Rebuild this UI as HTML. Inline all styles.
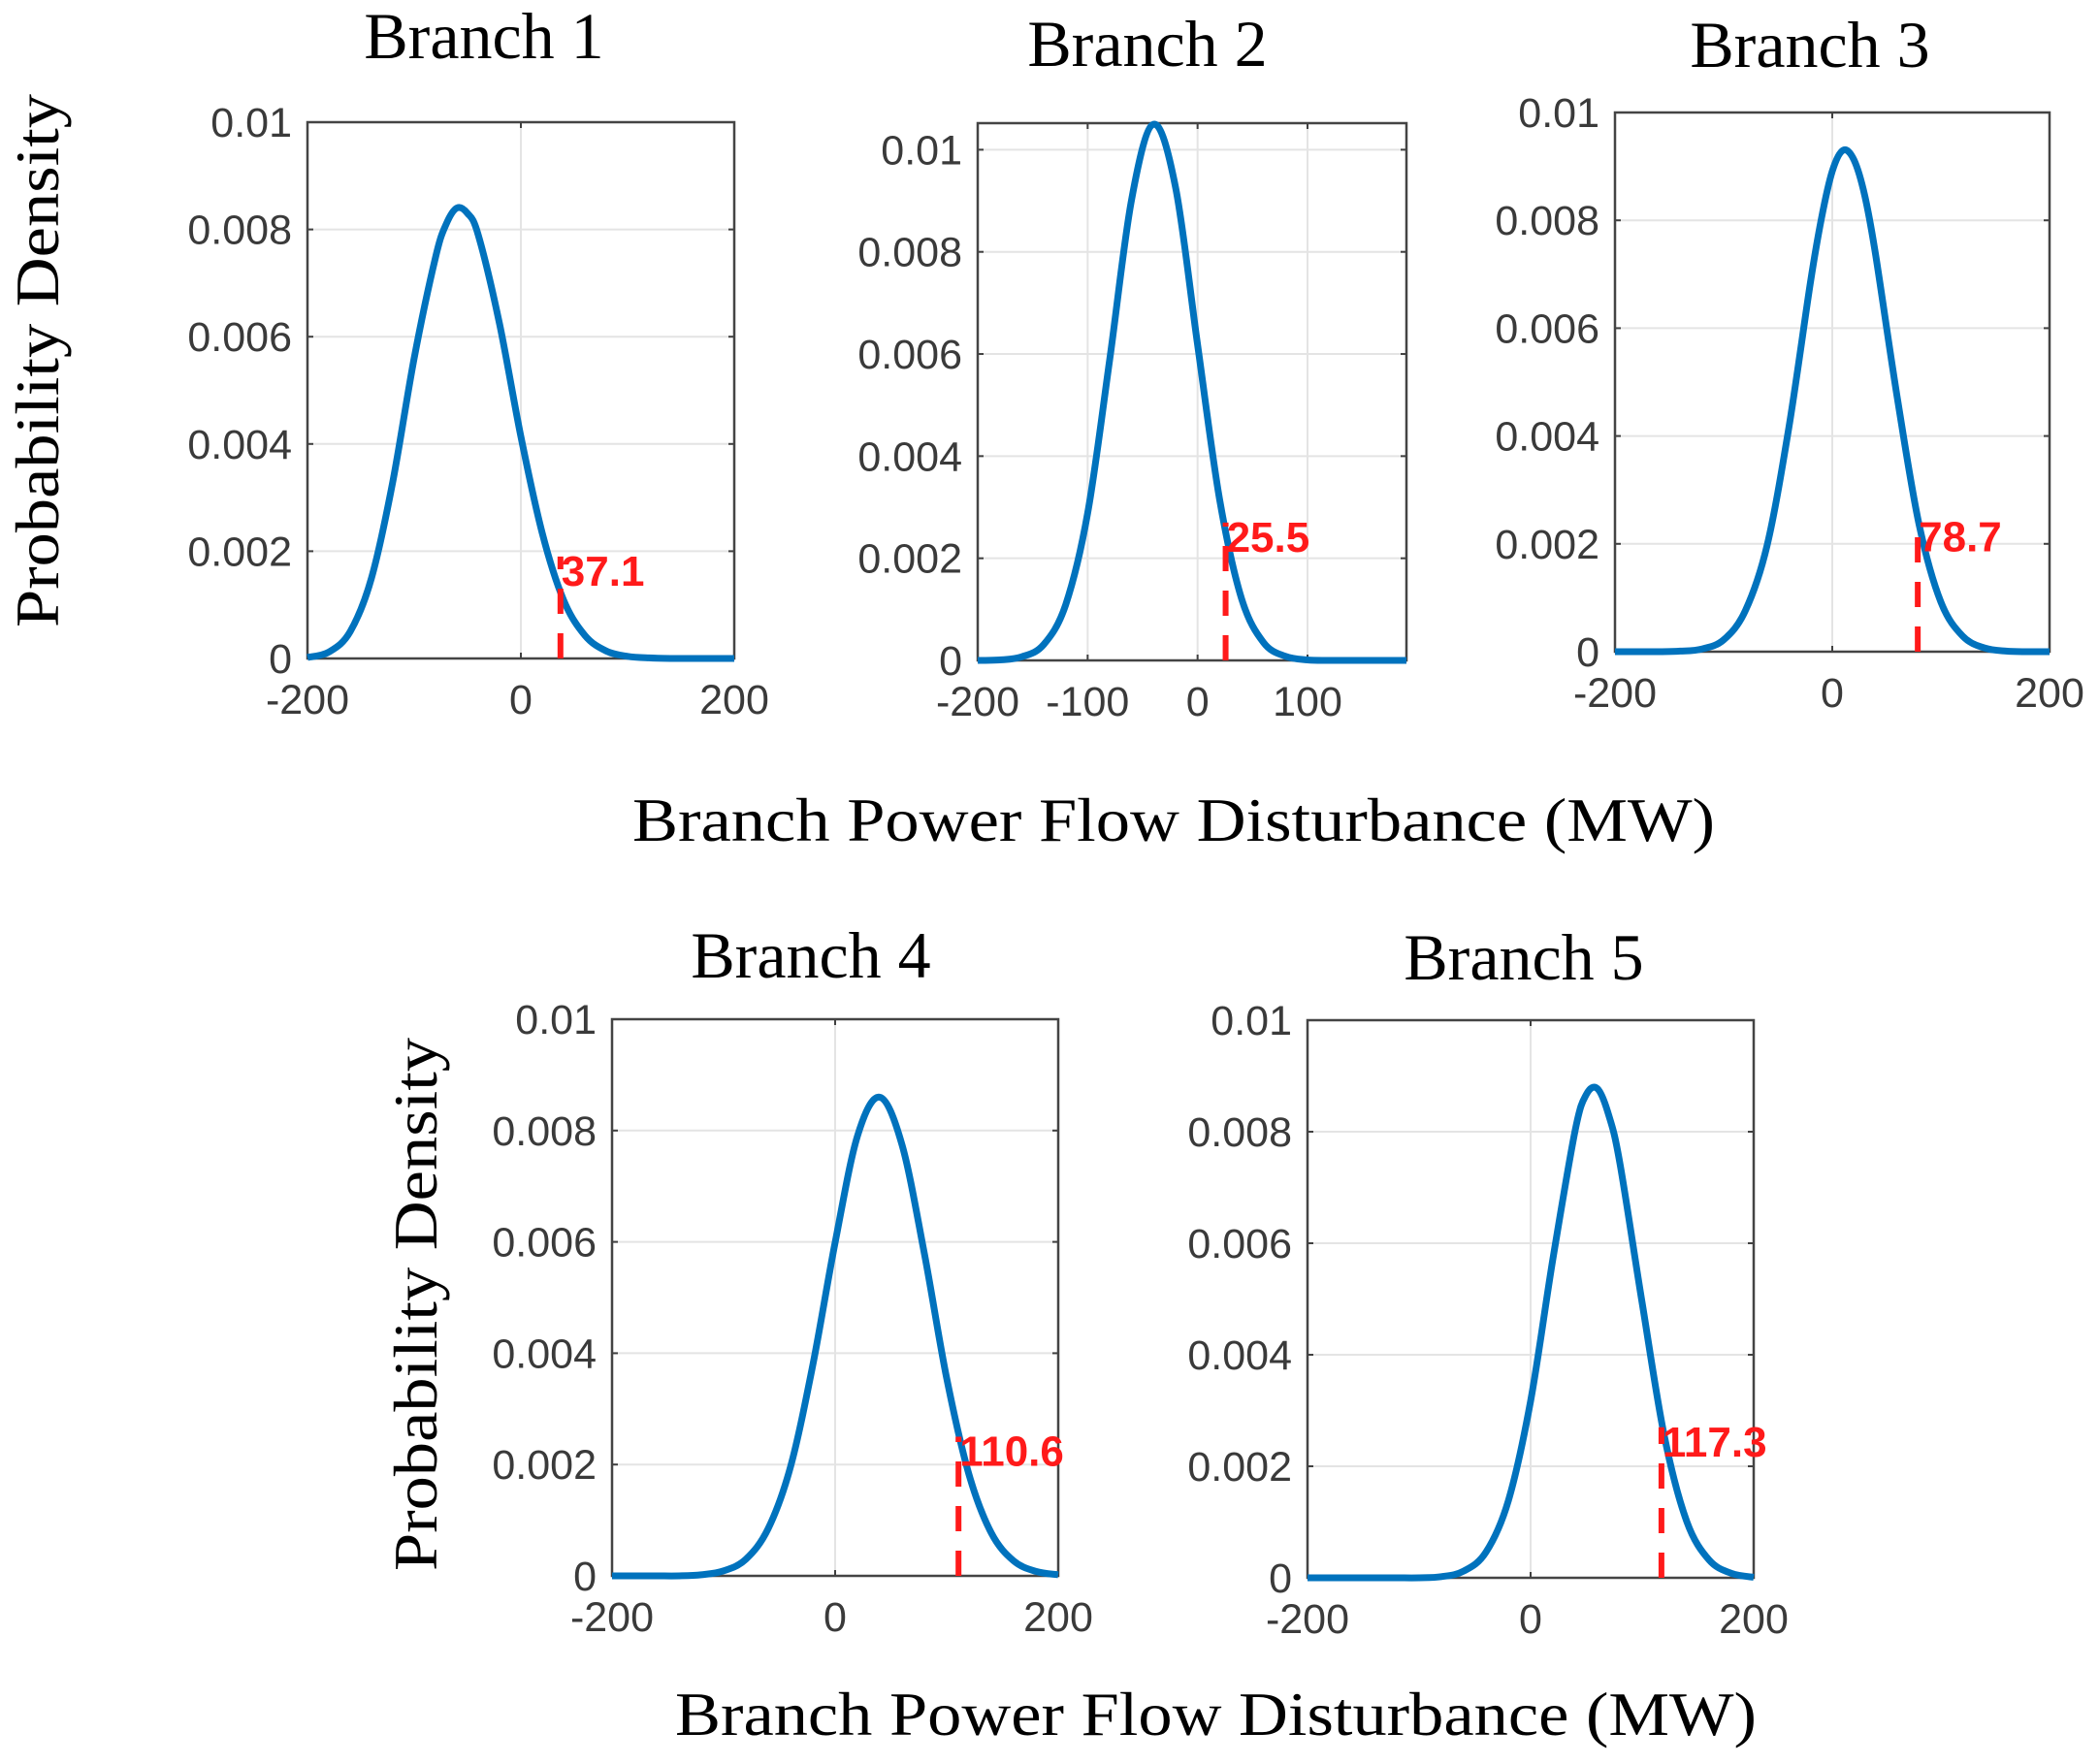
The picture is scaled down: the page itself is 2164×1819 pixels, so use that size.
<!DOCTYPE html>
<html><head><meta charset="utf-8">
<style>
html,body{margin:0;padding:0;background:#fff;}
svg{display:block;}
.tick{font-family:"Liberation Sans",Arial,sans-serif;font-size:43px;fill:#3a3a3a;}
.title{font-family:"Liberation Serif","Times New Roman",serif;font-size:68px;fill:#000;}
.axlab{font-family:"Liberation Serif","Times New Roman",serif;font-size:64px;fill:#000;}
.mark{font-family:"Liberation Sans",Arial,sans-serif;font-size:44px;font-weight:bold;fill:#ff1a1a;}
</style></head>
<body>
<svg id="fig" width="2164" height="1819" viewBox="0 0 2164 1819" xmlns="http://www.w3.org/2000/svg">
<text class="axlab" x="60" y="372" text-anchor="middle" transform="rotate(-90 60 372)" textLength="550" lengthAdjust="spacingAndGlyphs">Probability Density</text>
<text class="axlab" x="450" y="1345" text-anchor="middle" transform="rotate(-90 450 1345)" textLength="550" lengthAdjust="spacingAndGlyphs">Probability Density</text>
<text class="axlab" x="652" y="867" textLength="1116" lengthAdjust="spacingAndGlyphs">Branch Power Flow Disturbance (MW)</text>
<text class="axlab" x="696" y="1789" textLength="1115" lengthAdjust="spacingAndGlyphs">Branch Power Flow Disturbance (MW)</text>
</svg>
<script>
// ---- data ----
const branchNames = ["Branch 1","Branch 2","Branch 3","Branch 4","Branch 5"];
const thresholds = [37.1, 25.5, 78.7, 110.6, 117.3];
const thresholdLabels = ["37.1","25.5","78.7","110.6","117.3"];
const markerTops = [0.0019, 0.0027, 0.0024, 0.0025, 0.0027];
const xValues1 = [-200,-180,-160,-140,-120,-100,-80,-70,-60,-50,-40,-20,0,20,40,60,80,100,120,140,160,180,200];
const yValues1 = [0.00002,0.00012,0.0005,0.0015,0.0033,0.0056,0.00748,0.0081,0.0084,0.0083,0.0079,0.00624,0.00414,0.00234,0.00109,0.00043,0.00014,0.00004,0.00001,0,0,0,0];
const xValues2 = [-200,-180,-160,-140,-120,-100,-80,-60,-40,-20,0,20,40,60,80,100,120,140,160,190];
const yValues2 = [0,0.00001,0.00007,0.00031,0.00109,0.00288,0.00588,0.00903,0.0105,0.00926,0.00618,0.00316,0.00121,0.00035,0.00008,0.00001,0,0,0,0];
const xValues3 = [-200,-180,-160,-140,-120,-100,-80,-60,-40,-20,-10,0,10,20,30,40,60,80,100,120,140,160,180,200];
const yValues3 = [0,0,0,0.00001,0.00005,0.00022,0.00076,0.00197,0.00415,0.00686,0.00803,0.00891,0.0093,0.00912,0.00845,0.00735,0.00469,0.00235,0.00092,0.00029,0.00007,0.00001,0,0];
const xValues4 = [-200,-180,-160,-140,-120,-100,-80,-60,-40,-20,0,20,40,60,80,100,120,140,160,180,200];
const yValues4 = [0,0,0,0,0.00002,0.00009,0.0003,0.00085,0.00196,0.00379,0.00599,0.0079,0.0086,0.00774,0.00579,0.00355,0.00182,0.00077,0.00027,0.00008,0.00002];
const xValues5 = [-200,-180,-160,-140,-120,-100,-80,-60,-40,-20,0,20,40,50,60,70,80,100,120,140,160,180,200];
const yValues5 = [0,0,0,0,0,0,0.00002,0.00012,0.00046,0.00138,0.00317,0.00572,0.00803,0.00867,0.00877,0.0083,0.00744,0.00493,0.00253,0.00101,0.00032,0.00008,0.00001];
const xTicks1 = [-200,0,200];
const xTicks2 = [-200,-100,0,100];
const yTicks = [0,0.002,0.004,0.006,0.008,0.01];
const yTickLabels = ["0","0.002","0.004","0.006","0.008","0.01"];
const xDomains = [[-200,200],[-200,190],[-200,200],[-200,200],[-200,200]];
const yMaxes = [0.01,0.01052,0.01,0.01,0.01];

// ---- layout ----
const boxes = [
  {l:317,r:757,t:126,b:679,tx:499,ty:60},
  {l:1008,r:1450,t:127,b:681,tx:1183,ty:68},
  {l:1665,r:2113,t:116,b:672,tx:1866,ty:69},
  {l:631,r:1091,t:1051,b:1625,tx:836,ty:1008},
  {l:1348,r:1808,t:1052,b:1627,tx:1571,ty:1010}
];
const allX=[xValues1,xValues2,xValues3,xValues4,xValues5];
const allY=[yValues1,yValues2,yValues3,yValues4,yValues5];
const allXT=[xTicks1,xTicks2,xTicks1,xTicks1,xTicks1];
const NS="http://www.w3.org/2000/svg";
const svg=document.getElementById('fig');
function mk(tag,attrs,parent){const e=document.createElementNS(NS,tag);for(const k in attrs)e.setAttribute(k,attrs[k]);(parent||svg).appendChild(e);return e;}

function catmull(pts){
  let d="M"+pts[0][0].toFixed(1)+","+pts[0][1].toFixed(1);
  for(let i=0;i<pts.length-1;i++){
    const p0=pts[i-1]||pts[i],p1=pts[i],p2=pts[i+1],p3=pts[i+2]||p2;
    const c1=[p1[0]+(p2[0]-p0[0])/6,p1[1]+(p2[1]-p0[1])/6];
    const c2=[p2[0]-(p3[0]-p1[0])/6,p2[1]-(p3[1]-p1[1])/6];
    d+=" C"+c1[0].toFixed(1)+","+c1[1].toFixed(1)+" "+c2[0].toFixed(1)+","+c2[1].toFixed(1)+" "+p2[0].toFixed(1)+","+p2[1].toFixed(1);
  }
  return d;
}

boxes.forEach((B,i)=>{
  const [x0,x1]=xDomains[i];
  const ymax=yMaxes[i];
  const sx=v=>B.l+(v-x0)/(x1-x0)*(B.r-B.l);
  const sy=v=>B.b-v/ymax*(B.b-B.t);
  const g=mk('g',{});
  
  
  const title=mk('text',{class:'title',x:B.tx,y:B.ty,'text-anchor':'middle'},g);
  title.textContent=branchNames[i];
  
  
  yTicks.forEach((t,k)=>{
    const y=sy(t);
    const gl=mk('line',{x1:B.l,x2:B.r,y1:y,y2:y,stroke:'#e4e4e4','stroke-width':2},g);
    
    
    mk('line',{x1:B.l,x2:B.l+6,y1:y,y2:y,stroke:'#404040','stroke-width':2},g);
    mk('line',{x1:B.r,x2:B.r-6,y1:y,y2:y,stroke:'#404040','stroke-width':2},g);
    const tl=mk('text',{class:'tick',x:B.l-16,y:y+15,'text-anchor':'end'},g);
    tl.textContent=yTickLabels[k];
    
    
  });
  allXT[i].forEach(t=>{
    const x=sx(t);
    const gl=mk('line',{x1:x,x2:x,y1:B.t,y2:B.b,stroke:'#e4e4e4','stroke-width':2},g);
    
    
    mk('line',{x1:x,x2:x,y1:B.b,y2:B.b-6,stroke:'#404040','stroke-width':2},g);
    mk('line',{x1:x,x2:x,y1:B.t,y2:B.t+6,stroke:'#404040','stroke-width':2},g);
    const tl=mk('text',{class:'tick',x:x,y:B.b+57,'text-anchor':'middle'},g);
    tl.textContent=String(t);
    
    
  });
  const box=mk('rect',{x:B.l,y:B.t,width:B.r-B.l,height:B.b-B.t,fill:'none',stroke:'#444','stroke-width':2.5},g);
  
  
  const pts=allX[i].map((v,k)=>[sx(v),sy(allY[i][k])]);
  const path=mk('path',{d:catmull(pts),fill:'none',stroke:'#0072BD','stroke-width':7,'stroke-linejoin':'round'},g);
  
  
  const tx=sx(thresholds[i]);
  const ty=sy(markerTops[i]);
  const dl=mk('line',{x1:tx,x2:tx,y1:B.b,y2:ty,stroke:'#ff1a1a','stroke-width':6,'stroke-dasharray':'26,20'},g);
  
  
  const lab=mk('text',{class:'mark',x:tx+1,y:ty+30},g);
  lab.textContent=thresholdLabels[i];
  
  
});
</script>
</body></html>
